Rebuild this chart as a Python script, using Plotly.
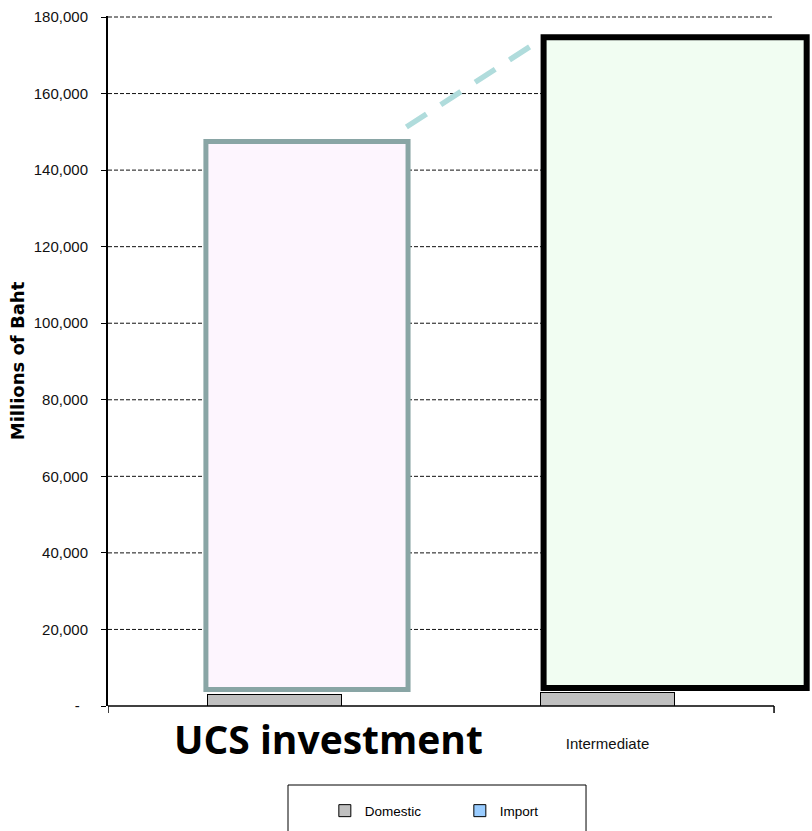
import plotly.graph_objects as go

# ---------------- data ----------------
categories = ["UCS investment", "Intermediate"]
domestic = [3100, 3600]
imports = [0, 0]
box_bottom = [4300, 4700]
box_top = [147500, 174700]
link_start = [0.396, 151250]
link_end = [0.779, 172940]
y_ticks = [0, 20000, 40000, 60000, 80000, 100000, 120000, 140000, 160000, 180000]
y_ticktext = ["-\u00a0\u00a0"] + [f"{v:,}" for v in y_ticks[1:]]

NARROW = "Liberation Sans Narrow, Arial Narrow, Liberation Sans, Arial, sans-serif"

fig = go.Figure()
fig.add_trace(go.Bar(name="Domestic", x=categories, y=domestic, width=0.4,
                     marker=dict(color="#c0c0c0", line=dict(color="black", width=1))))
fig.add_trace(go.Bar(name="Import", x=categories, y=imports, width=0.4,
                     marker=dict(color="#99ccff", line=dict(color="black", width=1))))

shapes = []
# dashed gridlines (only over the category span)
for v in y_ticks[1:]:
    shapes.append(dict(type="line", xref="x", yref="y", x0=-0.5, x1=1.5, y0=v, y1=v,
                       line=dict(color="#111111", width=1, dash="4px,2px"), layer="below"))
# x axis line and end ticks
shapes.append(dict(type="line", xref="x", yref="paper", x0=-0.5, x1=1.5, y0=0, y1=0,
                   line=dict(color="black", width=1.5)))
for xv in (-0.5, 1.5):
    shapes.append(dict(type="line", xref="x", yref="paper", ysizemode="pixel", yanchor=0,
                       x0=xv, x1=xv, y0=0, y1=-7, line=dict(color="black", width=1.5)))
# overlay boxes
box_offsets = [(-0.206, 0.401), (-0.192, 0.598)]
box_fill = ["#fdf5fe", "#f1fdf2"]
box_line = [("#89a5a5", 5), ("black", 6)]
for i in range(2):
    shapes.append(dict(type="rect", xref="x", yref="y",
                       x0=i + box_offsets[i][0], x1=i + box_offsets[i][1],
                       y0=box_bottom[i], y1=box_top[i],
                       fillcolor=box_fill[i],
                       line=dict(color=box_line[i][0], width=box_line[i][1]), layer="above"))
# dashed connector
shapes.append(dict(type="line", xref="x", yref="y", x0=link_start[0], y0=link_start[1],
                   x1=link_end[0], y1=link_end[1],
                   line=dict(color="#b0dcdc", width=5.5, dash="24px,17px"), layer="above"))
# legend frame
shapes.append(dict(type="rect", xref="paper", yref="paper", x0=0.2557, x1=0.679,
                   y0=-0.1145, y1=-0.1826, line=dict(color="black", width=1)))

fig.update_layout(
    width=812, height=831,
    margin=dict(l=108, r=0, t=16, b=125, autoexpand=False),
    plot_bgcolor="white", paper_bgcolor="white",
    barmode="stack",
    showlegend=True,
    legend=dict(orientation="h", x=0.308, xanchor="left", y=-0.152, yanchor="middle",
                entrywidth=90, entrywidthmode="pixels", itemwidth=30,
                font=dict(family=NARROW, size=13.5, color="black"),
                bgcolor="rgba(0,0,0,0)", traceorder="normal"),
    shapes=shapes,
    annotations=[dict(text="<b>UCS investment</b>", x=0.162, xref="x", y=-0.0464, yref="paper",
                      yanchor="middle", xanchor="center", showarrow=False,
                      font=dict(family="Open Sans", size=39, color="black"))],
    xaxis=dict(type="category", categoryorder="array", categoryarray=categories,
               range=[-0.5, 1.614], showgrid=False, zeroline=False, showline=False,
               automargin=False,
               ticks="", tickmode="array", tickvals=["Intermediate"], ticktext=["Intermediate"],
               ticklabelstandoff=27,
               tickfont=dict(family=NARROW, size=15, color="#111111")),
    yaxis=dict(range=[0, 180261], tickmode="array", tickvals=y_ticks, ticktext=y_ticktext,
               showgrid=False, zeroline=False, showline=True, linecolor="black", linewidth=2,
               automargin=False,
               ticks="outside", ticklen=5, tickcolor="black", tickwidth=1,
               ticklabelstandoff=10,
               tickfont=dict(family=NARROW, size=15, color="#111111"),
               title=dict(text="<b>Millions of Baht</b>", standoff=4,
                          font=dict(family="DejaVu Sans", size=18, color="black"))),
)

fig.write_html("out.html", config={"displayModeBar": False},
               post_script="document.body.style.margin='0';")
